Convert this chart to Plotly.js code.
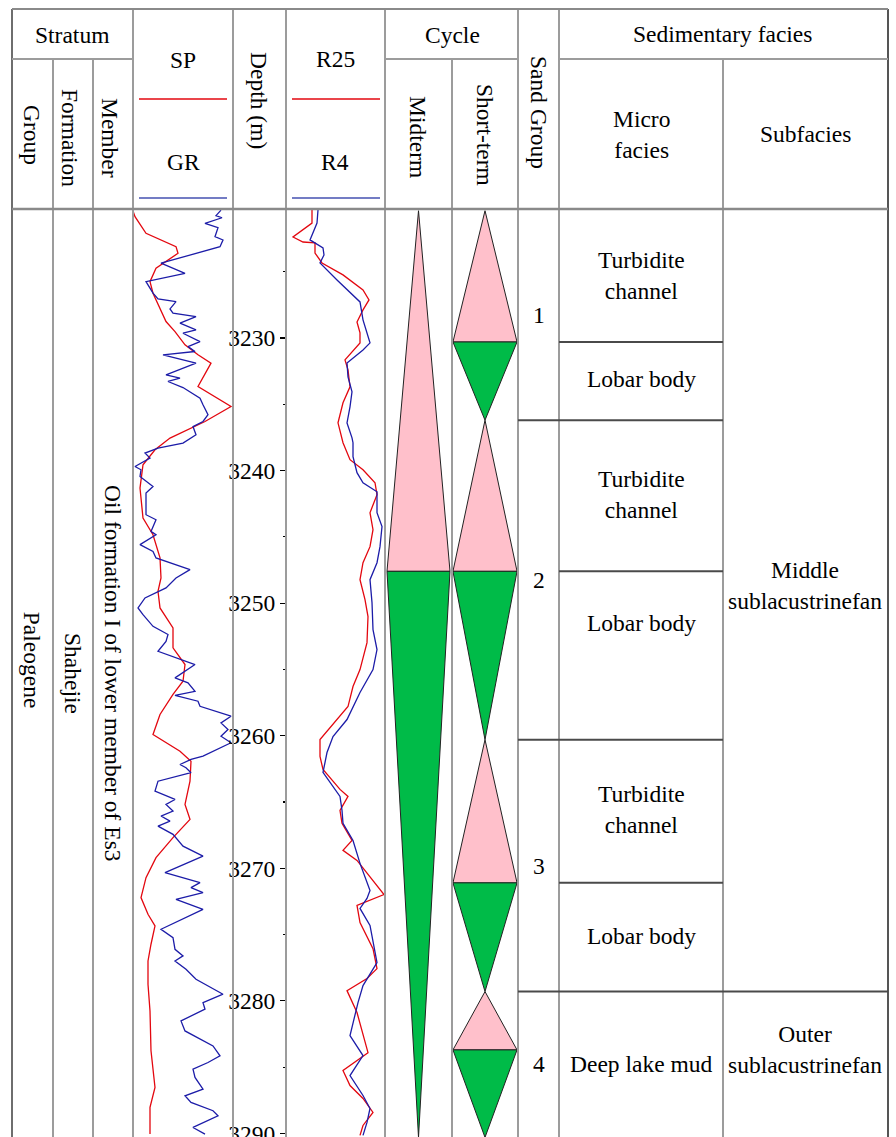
<!DOCTYPE html>
<html><head><meta charset="utf-8">
<script src="https://cdn.plot.ly/plotly-3.0.1.min.js"></script>
<style>html,body{margin:0;padding:0;background:#fff}#chart{width:896px;height:1137px}</style>
</head><body><div id="chart"></div>
<script>
// ---------------- DATA ----------------
// SP (red) and GR (blue) curves, relative track units 0-100
const spDepth = [3220.42,3220.85,3222.10,3223.11,3223.61,3224.74,3225.75,3226.62,3228.76,3229.52,
  3230.52,3231.27,3231.90,3233.66,3235.17,3236.30,3237.55,3238.43,3239.56,3241.32,
  3243.58,3244.84,3246.59,3248.10,3249.11,3250.36,3251.87,3253.37,3254.63,3255.89,
  3256.89,3258.40,3259.91,3261.17,3261.92,3263.43,3265.18,3266.31,3267.69,3269.20,
  3270.71,3272.21,3273.47,3274.35,3275.73,3276.99,3278.75,3280.76,3283.77,3286.53,
  3288.04,3290.05];
const spValue = [0,2,13,43,45,23,17,20,33,42,
  52,65,78,65,98,72,37,22,10,7,
  10,20,27,28,25,27,40,40,52,50,
  40,27,20,47,58,57,52,57,40,23,
  13,8,15,22,18,15,15,17,18,22,
  17,17];

const grDepth = [3220.35,3220.77,3220.93,3221.35,3221.68,3222.36,3222.61,3223.11,3224.36,3225.12,
  3225.75,3226.62,3227.05,3227.26,3227.81,3228.13,3228.39,3228.88,3229.39,3229.64,
  3230.27,3230.65,3231.02,3231.27,3231.90,3232.78,3233.03,3233.28,3233.74,3234.54,
  3235.04,3235.79,3236.30,3236.68,3237.30,3237.93,3238.30,3238.68,3239.06,3239.69,
  3239.94,3240.44,3241.20,3241.69,3243.33,3243.71,3244.59,3244.84,3245.59,3246.10,
  3246.59,3247.47,3248.10,3248.85,3249.61,3250.36,3250.87,3251.75,3252.37,3252.88,
  3253.63,3254.13,3254.63,3255.64,3256.01,3256.65,3256.95,3257.40,3257.78,3258.53,
  3259.03,3259.53,3260.04,3260.53,3261.54,3261.79,3262.17,3262.42,3262.79,3263.43,
  3264.18,3264.81,3265.18,3265.69,3266.06,3266.44,3266.82,3267.44,3268.33,3269.08,
  3269.70,3270.33,3271.08,3271.46,3271.84,3272.34,3273.10,3274.60,3275.23,3276.11,
  3276.61,3276.99,3277.62,3278.37,3279.50,3280.13,3280.63,3281.51,3282.27,3283.40,
  3284.15,3284.65,3285.15,3285.78,3286.66,3287.16,3287.66,3288.29,3288.67,3289.55,
  3290.05];
const grValue = [88,83,89,72,85,82,90,87,28,52,
  13,20,25,43,37,40,63,47,63,50,
  67,55,62,30,63,33,47,35,50,67,
  70,75,70,60,63,50,25,12,17,2,
  8,7,20,13,13,23,18,23,7,20,
  23,57,43,33,12,5,10,20,35,33,
  25,43,62,42,55,62,42,65,67,98,
  88,95,88,98,70,58,47,53,58,25,
  22,42,33,40,28,37,25,40,50,70,
  52,32,67,58,70,43,70,28,40,42,
  50,42,53,63,90,70,72,48,52,80,
  87,75,60,62,70,52,58,80,85,60,
  72];

// R25 (red) and R4 (blue) resistivity curves, relative track units 0-99
const r25Depth = [3220.35,3221.33,3222.38,3222.76,3222.83,3223.59,3224.34,3225.24,3226.37,3227.13,
  3227.88,3228.79,3229.61,3230.37,3231.65,3232.4,3233.68,3234.89,3236.4,3237.45,
  3237.9,3239.18,3239.94,3240.92,3241.82,3243.18,3244.46,3245.74,3246.95,3248.23,
  3249.74,3251.02,3252.98,3255.01,3256.29,3257.8,3258.78,3260.29,3261.57,3262.55,
  3264.05,3264.58,3265.63,3266.61,3267.9,3268.65,3269.41,3270.69,3271.98,3272.8,
  3274.09,3276.06,3277.57,3278.32,3279.23,3280.88,3283.91,3285.26,3286.39,3287.36,
  3288.42,3289.4,3290.15];
const r25Value = [26,26,7,17,29,29,36,57,77,83,
  77,71,74,74,59,62,64,57,52,56,
  57,64,77,89,91,84,87,84,77,74,
  79,82,81,74,67,62,51,34,34,37,
  54,62,54,56,66,57,71,84,98,71,
  74,87,91,81,61,71,82,57,64,77,
  87,77,74];

const r4Depth = [3220.35,3221.33,3222.6,3223.21,3223.74,3224.34,3225.62,3227.28,3228.63,3230.37,
  3230.9,3231.88,3232.93,3234.06,3235.19,3236.4,3237.53,3237.9,3238.96,3240.16,
  3240.92,3241.6,3243.18,3244.23,3245.74,3246.95,3248.23,3249.96,3252.0,3253.5,
  3255.01,3256.74,3258.78,3260.06,3261.27,3262.77,3264.58,3265.63,3266.61,3267.9,
  3269.63,3271.67,3272.27,3273.03,3274.31,3277.11,3278.85,3280.13,3282.62,3284.13,
  3285.64,3287.14,3288.12,3289.17,3290.15];
const r4Value = [32,31,24,37,38,34,51,74,77,84,
  77,61,62,66,64,61,66,67,67,71,
  77,91,91,96,94,91,84,86,87,91,
  87,74,61,47,41,37,54,56,57,67,
  74,84,81,74,84,91,77,72,64,77,
  64,77,84,81,77];

// Cycles: depth of each apex / base and relative width (0 apex, 1 base)
const midDepths = [3220.4, 3247.6, 3290.3];
const midWidths = [0, 1, 0];
const shortDepths = [3220.4, 3230.3, 3236.2, 3247.6, 3260.3, 3271.1, 3279.3, 3283.7, 3290.3];
const shortWidths = [0, 1, 0, 1, 0, 1, 0, 1, 0];

// Depth axis ticks
const depthTicks = [3230, 3240, 3250, 3260, 3270, 3280, 3290];
const depthTop = 3220.27, depthBottom = 3290.27;

// Sand groups
const sandGroups = ['1', '2', '3', '4'];
const sandBounds = [3220.27, 3236.2, 3260.3, 3279.3, 3290.27];

// Micro facies
const microFacies = ['Turbidite<br>channel', 'Lobar body', 'Turbidite<br>channel', 'Lobar body',
                     'Turbidite<br>channel', 'Lobar body', 'Deep lake mud'];
const microBounds = [3230.3, 3247.6, 3271.1];   // boundaries inside a sand group
const microLabelDepths = [3225.3, 3233.1, 3241.8, 3251.5, 3265.6, 3275.1, 3284.8];

// Subfacies
const subfacies = ['Middle<br>sublacustrinefan', 'Outer<br>sublacustrinefan'];
const subfaciesBounds = [3279.3];
const subfaciesLabelDepths = [3248.7, 3283.7];

// Stratum
const stratumGroup = 'Paleogene';
const stratumFormation = 'Shahejie';
const stratumMember = 'Oil formation I of lower member of Es3';

// ---------------- LAYOUT HELPERS ----------------
const W = 896, H = 1137;
const px = x => x / W;
const py = y => 1 - y / H;
const FONT = '"Liberation Serif", "Times New Roman", Tinos, serif';
const FS = 23.5;
const RED = '#e3070f', BLUE = '#1c1ca8';
const PINK = '#ffc0cb', GREEN = '#00bb48';
const GRID = '#9c9c9c', DARK = '#4a4a4a';

const traces = [];
const curve = (x, y, xa, color) => traces.push({
  x: x, y: y, xaxis: xa, yaxis: 'y', type: 'scatter', mode: 'lines',
  line: {color: color, width: 1.3}, hoverinfo: 'skip', showlegend: false
});
curve(spValue, spDepth, 'x', RED);
curve(grValue, grDepth, 'x2', BLUE);
curve(r25Value, r25Depth, 'x3', RED);
curve(r4Value, r4Depth, 'x4', BLUE);

function cycle(depths, widths, xa) {
  for (let i = 0; i < depths.length - 1; i++) {
    const d1 = depths[i], d2 = depths[i + 1], w1 = widths[i], w2 = widths[i + 1];
    traces.push({
      x: [-w1, w1, w2, -w2, -w1], y: [d1, d1, d2, d2, d1],
      xaxis: xa, yaxis: 'y', type: 'scatter', mode: 'lines', fill: 'toself',
      fillcolor: w2 > w1 ? PINK : GREEN, line: {color: '#222', width: 1},
      hoverinfo: 'skip', showlegend: false
    });
  }
}
cycle(midDepths, midWidths, 'x5');
cycle(shortDepths, shortWidths, 'x6');

// ---------------- TABLE LINES ----------------
const shapes = [];
const line = (x0, y0, x1, y1, color, width, yref) => shapes.push({
  type: 'line', xref: 'paper', yref: yref || 'paper', x0: x0, y0: y0, x1: x1, y1: y1,
  line: {color: color, width: width}, layer: 'above'
});
// verticals spanning full height
[133, 233, 286, 385, 518, 559].forEach(x => line(px(x), py(9), px(x), 0, GRID, 2));
line(px(12), py(9), px(12), 0, '#6e6e6e', 2);
line(px(888), py(9), px(888), 0, '#555', 2);
// verticals starting at sub-header row
[53, 93, 452, 723].forEach(x => line(px(x), py(59), px(x), 0, GRID, 2));
// horizontals
line(px(12), py(9), px(888), py(9), '#8a8a8a', 2);
line(px(12), py(209), px(888), py(209), '#8a8a8a', 2.5);
[[12, 133], [385, 518], [559, 888]].forEach(s => line(px(s[0]), py(59), px(s[1]), py(59), GRID, 2));
// header legend lines
line(px(139), py(99), px(227), py(99), RED, 1.5);
line(px(139), py(198), px(227), py(198), '#4450b0', 1.5);
line(px(292), py(99), px(380), py(99), RED, 1.5);
line(px(292), py(198), px(380), py(198), '#4450b0', 1.5);
// facies boundaries in data units
sandBounds.slice(1, -1).forEach(d => line(px(518), d, px(723), d, DARK, 2, 'y'));
microBounds.forEach(d => line(px(559), d, px(723), d, DARK, 2, 'y'));
subfaciesBounds.forEach(d => line(px(723), d, px(888), d, DARK, 2, 'y'));

// ---------------- TEXT ----------------
const annotations = [];
const txt = (text, x, y, angle, yref) => annotations.push({
  text: text, x: x, y: y, xref: 'paper', yref: yref || 'paper', showarrow: false,
  xanchor: 'center', yanchor: 'middle', textangle: angle || 0,
  font: {family: FONT, size: FS, color: '#000'}
});
txt('Stratum', px(72), py(35));
txt('Group', px(32), py(135), 90);
txt('Formation', px(70), py(138), 90);
txt('Member', px(110), py(138), 90);
txt('SP', px(183), py(60));
txt('GR', px(183), py(162));
txt('Depth (m)', px(259), py(100), 90);
txt('R25', px(335), py(59));
txt('R4', px(335), py(162));
txt('Cycle', px(452), py(35));
txt('Midterm', px(418), py(137), 90);
txt('Short-term', px(485), py(135), 90);
txt('Sand Group', px(539), py(112), 90);
txt('Sedimentary facies', px(722), py(34));
txt('Micro<br>facies', px(641), py(134));
txt('Subfacies', px(805), py(134));

const midDepth = (depthTop + depthBottom) / 2;
txt(stratumGroup, px(32), midDepth - 1, 90, 'y');
txt(stratumFormation, px(73), midDepth, 90, 'y');
txt(stratumMember, px(113), midDepth, 90, 'y');

sandGroups.forEach((g, i) => txt(g, px(539), (sandBounds[i] + sandBounds[i + 1]) / 2, 0, 'y'));
microFacies.forEach((m, i) => txt(m, px(641), microLabelDepths[i], 0, 'y'));
subfacies.forEach((s, i) => txt(s, px(805), subfaciesLabelDepths[i], 0, 'y'));

// ---------------- AXES ----------------
const hidden = {visible: false, fixedrange: true};
const layout = {
  width: W, height: H, margin: {l: 0, r: 0, t: 0, b: 0, pad: 0},
  paper_bgcolor: '#fff', plot_bgcolor: 'rgba(0,0,0,0)', showlegend: false,
  font: {family: FONT, size: FS, color: '#000'},
  xaxis: Object.assign({domain: [px(133), px(233)], range: [0, 100], anchor: 'y'}, hidden),
  xaxis2: Object.assign({overlaying: 'x', range: [0, 100], anchor: 'y'}, hidden),
  xaxis3: Object.assign({domain: [px(286), px(385)], range: [0, 99], anchor: 'y'}, hidden),
  xaxis4: Object.assign({overlaying: 'x3', range: [0, 99], anchor: 'y'}, hidden),
  xaxis5: Object.assign({domain: [px(385), px(452)], range: [-1.063, 1.063], anchor: 'y'}, hidden),
  xaxis6: Object.assign({domain: [px(452), px(518)], range: [-1.03, 1.03], anchor: 'y'}, hidden),
  yaxis: {
    domain: [0, py(209)], range: [depthBottom, depthTop], anchor: 'free', position: px(286),
    side: 'left', showgrid: false, zeroline: false, showline: false, fixedrange: true,
    tickmode: 'array', tickvals: depthTicks, ticktext: depthTicks.map(String),
    ticks: 'outside', ticklen: 6, tickwidth: 1.2, tickcolor: '#000',
    ticklabeloverflow: 'allow',
    tickfont: {family: FONT, size: FS, color: '#000'},
    minor: {dtick: 5, tick0: 3225, ticks: 'outside', ticklen: 3, tickwidth: 1.2, tickcolor: '#000'}
  },
  shapes: shapes, annotations: annotations
};

Plotly.newPlot('chart', traces, layout, {displayModeBar: false, staticPlot: true});
</script></body></html>
